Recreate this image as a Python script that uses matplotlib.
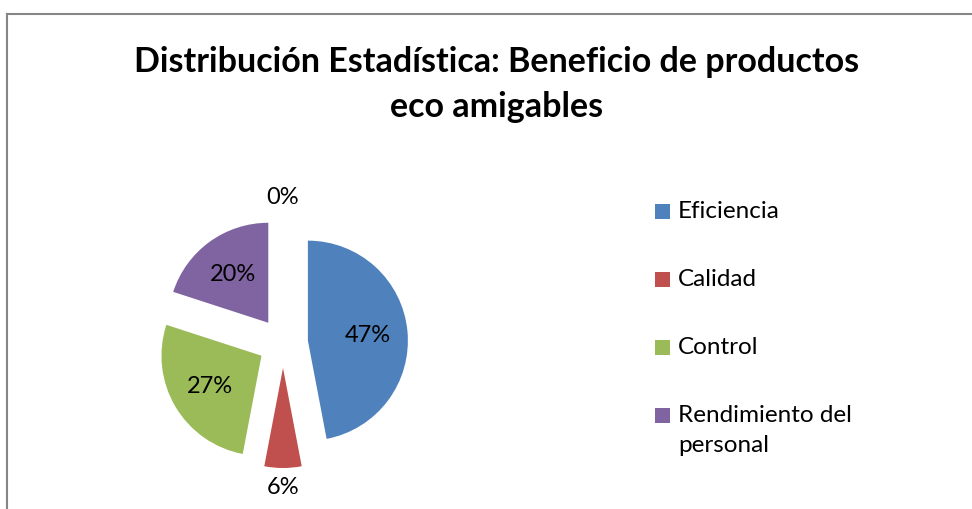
import matplotlib
matplotlib.use("Agg")
import matplotlib.pyplot as plt
from matplotlib.lines import Line2D
from matplotlib.patches import Rectangle

# data
categorias = ['Eficiencia', 'Calidad', 'Control', 'Rendimiento del\npersonal', '']
valores = [47, 6, 27, 20, 0]
colores = ['#4F81BD', '#C0504D', '#9BBB59', '#8064A2', '#F79646']

plt.rcParams['font.family'] = ['Lato', 'DejaVu Sans']

W, H = 972, 509
fig = plt.figure(figsize=(W / 100, H / 100), dpi=100)

# chart frame (only top and left edges visible)
fig.add_artist(Line2D([7 / W, 7 / W], [0, 1 - 14 / H], transform=fig.transFigure,
                      color='#868686', lw=1.5))
fig.add_artist(Line2D([7 / W, 1], [1 - 14 / H, 1 - 14 / H], transform=fig.transFigure,
                      color='#868686', lw=1.5))

fig.text(497 / W, 1 - 62 / H, 'Distribución Estadística: Beneficio de productos',
         ha='center', va='center', fontsize=24.5, fontweight='bold')
fig.text(497 / W, 1 - 107 / H, 'eco amigables',
         ha='center', va='center', fontsize=24.5, fontweight='bold')

ax = fig.add_axes([(283 - 160) / W, (H - 343 - 160) / H, 320 / W, 320 / H])
wedges, texts, autotexts = ax.pie(valores, colors=colores, startangle=90, counterclock=False,
                                  explode=[0.25] * len(valores), radius=1,
                                  autopct='%1.0f%%', pctdistance=0.6,
                                  textprops={'fontsize': 17})
# small slices get their label outside
for i, v in enumerate(valores):
    if v < 10:
        t = autotexts[i]
        x, y = t.get_position()
        n = (x ** 2 + y ** 2) ** 0.5
        if n == 0:
            x, y, n = 0, 1, 1
        t.set_position((x / n * 1.45, y / n * 1.45))
ax.set_xlim(-1.6, 1.6)
ax.set_ylim(-1.6, 1.6)
ax.set_aspect('equal')

# legend, marker aligned with the first text line as in the original
for i in range(4):
    yc = 211 + 68 * i
    fig.add_artist(Rectangle((655 / W, 1 - (yc + 7.5) / H), 15 / W, 15 / H,
                             transform=fig.transFigure, color=colores[i], lw=0))
    fig.text(678 / W, 1 - (yc - 10) / H, categorias[i], ha='left', va='top',
             fontsize=17.5, linespacing=1.55)

fig.savefig('out.png', dpi=100)
